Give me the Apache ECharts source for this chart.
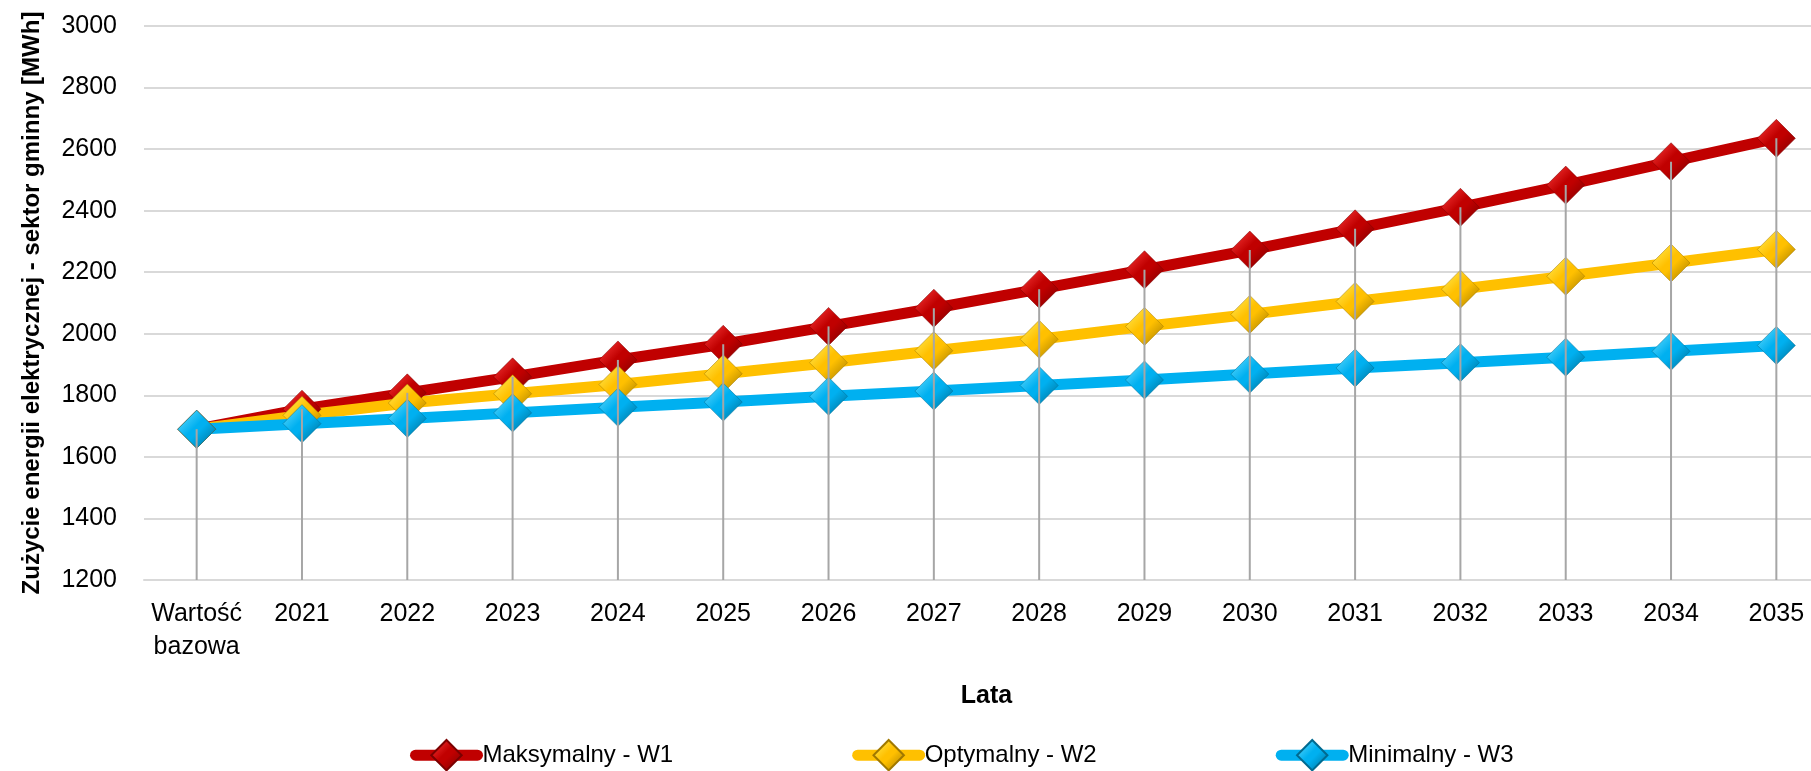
<!DOCTYPE html>
<html>
<head>
<meta charset="utf-8">
<script src="https://cdn.jsdelivr.net/npm/echarts@6/dist/echarts.min.js"></script>
<style>
html,body{margin:0;padding:0;background:#fff;}
#c{width:1811px;height:771px;}
</style>
</head>
<body>
<div id="c"></div>
<script>
const categories = ['Wartość\nbazowa','2021','2022','2023','2024','2025','2026','2027','2028','2029','2030','2031','2032','2033','2034','2035'];
const maksymalnyW1 = [1690,1755,1808,1860,1915,1966,2024,2083,2145,2208,2272,2341,2411,2483,2559,2635];
const optymalnyW2 = [1690,1735,1775,1805,1835,1870,1906,1945,1982,2024,2063,2105,2145,2187,2230,2274];
const minimalnyW3 = [1690,1708,1725,1743,1761,1778,1797,1814,1832,1850,1869,1889,1906,1924,1943,1962];
const yTicks = [1200,1400,1600,1800,2000,2200,2400,2600,2800,3000];
const seriesNames = ['Maksymalny - W1','Optymalny - W2','Minimalny - W3'];

const FONT = '"Liberation Sans", Arial, sans-serif';
const FS = 25;
const yMin = yTicks[0], yMax = yTicks[yTicks.length-1], yStep = yTicks[1]-yTicks[0];

function grad(light, base, dark){
  return new echarts.graphic.LinearGradient(0,0,1,1,[
    {offset:0,color:light},{offset:0.45,color:base},{offset:0.55,color:base},{offset:1,color:dark}
  ]);
}
function lineSeries(name, data, color, light, dark){
  return {
    name, type:'line', data,
    symbol:'diamond', symbolSize:38,
    lineStyle:{color, width:11},
    itemStyle:{color:grad(light,color,dark), borderColor:dark, borderWidth:0.5},
    color: color,
    emphasis:{disabled:true}
  };
}
const dropData = categories.map((c,i)=>[i, Math.max(maksymalnyW1[i], optymalnyW2[i], minimalnyW3[i])]);

const chart = echarts.init(document.getElementById('c'), null, {renderer:'canvas'});
chart.setOption({
  animation:false,
  backgroundColor:'#fff',
  textStyle:{fontFamily:FONT},
  grid:{left:144, top:26, width:1685, height:554, containLabel:false, outerBoundsMode:'none'},
  legend:{
    data:seriesNames,
    left:405, top:734,
    itemWidth:62, itemHeight:38, itemGap:179,
    lineStyle:{width:11, cap:'round'},
    textStyle:{fontSize:24, color:'#000', fontFamily:FONT}
  },
  xAxis:{
    type:'category', data:categories, boundaryGap:true,
    name:'Lata', nameLocation:'middle', nameGap:104,
    nameTextStyle:{fontSize:FS, fontWeight:'bold', color:'#000', fontFamily:FONT},
    axisLine:{show:true, lineStyle:{color:'#D9D9D9', width:2}},
    axisTick:{show:false},
    axisLabel:{fontSize:FS, color:'#000', margin:18, lineHeight:33, fontFamily:FONT, interval:0}
  },
  yAxis:{
    type:'value', min:yMin, max:yMax, interval:yStep,
    name:'Zużycie energii elektrycznej - sektor gminny [MWh]',
    nameLocation:'middle', nameGap:100,
    nameTextStyle:{fontSize:24, fontWeight:'bold', color:'#000', fontFamily:FONT},
    axisLine:{show:false}, axisTick:{show:false},
    axisLabel:{fontSize:FS, color:'#000', margin:27, fontFamily:FONT, formatter:v=>String(v)},
    splitLine:{lineStyle:{color:'#D9D9D9', width:2}}
  },
  series:[
    lineSeries(seriesNames[0], maksymalnyW1, '#C00000', '#FF4040', '#7A0000'),
    lineSeries(seriesNames[1], optymalnyW2, '#FFC000', '#FFF060', '#A07800'),
    lineSeries(seriesNames[2], minimalnyW3, '#00B0F0', '#70E0FF', '#006A90'),
    {
      type:'custom', name:'drop', data:dropData, z:5, silent:true,
      renderItem:function(params, api){
        const top = api.coord([api.value(0), api.value(1)]);
        const bot = api.coord([api.value(0), yMin]);
        return {type:'line', shape:{x1:top[0], y1:top[1], x2:bot[0], y2:bot[1]}, style:{stroke:'#A6A6A6', lineWidth:2}};
      }
    }
  ]
});
</script>
</body>
</html>
